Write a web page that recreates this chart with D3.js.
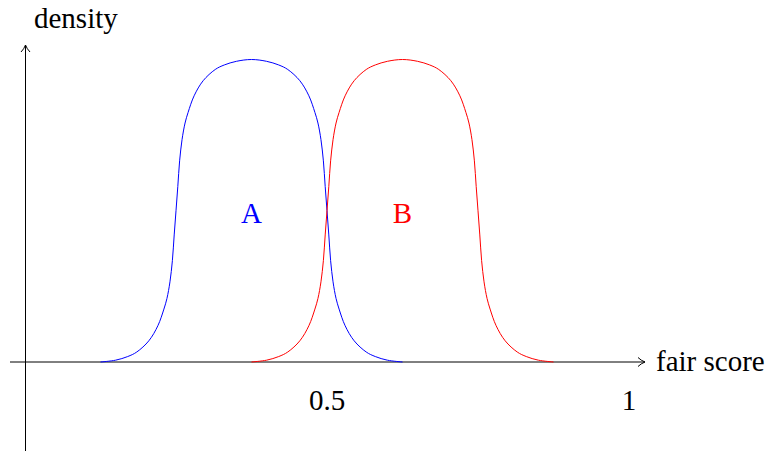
<!DOCTYPE html>
<html>
<head>
<meta charset="utf-8">
<script src="https://cdn.jsdelivr.net/npm/d3@7"></script>
</head>
<body style="margin:0">
<svg width="766" height="451"></svg>
<script>
// values (x = fair score, y = density, peak = 1)
var blueX = [0.125, 0.150, 0.170, 0.185, 0.205, 0.220, 0.230, 0.235, 0.240, 0.244, 0.247, 0.250, 0.253, 0.256, 0.260, 0.265, 0.270, 0.280, 0.295, 0.315, 0.330, 0.350, 0.375,
             0.400, 0.420, 0.435, 0.455, 0.470, 0.480, 0.485, 0.490, 0.494, 0.497, 0.500, 0.503, 0.506, 0.510, 0.515, 0.520, 0.530, 0.545, 0.565, 0.580, 0.600, 0.625];
var blueY = [0, 0.006, 0.018, 0.033, 0.070, 0.120, 0.175, 0.210, 0.265, 0.335, 0.420, 0.500, 0.580, 0.665, 0.735, 0.790, 0.825, 0.880, 0.930, 0.967, 0.982, 0.994, 1.000,
             0.994, 0.982, 0.967, 0.930, 0.880, 0.825, 0.790, 0.735, 0.665, 0.580, 0.500, 0.420, 0.335, 0.265, 0.210, 0.175, 0.120, 0.070, 0.033, 0.018, 0.006, 0];
var redX = [0.375, 0.400, 0.420, 0.435, 0.455, 0.470, 0.480, 0.485, 0.490, 0.494, 0.497, 0.500, 0.503, 0.506, 0.510, 0.515, 0.520, 0.530, 0.545, 0.565, 0.580, 0.600, 0.625,
            0.650, 0.670, 0.685, 0.705, 0.720, 0.730, 0.735, 0.740, 0.744, 0.747, 0.750, 0.753, 0.756, 0.760, 0.765, 0.770, 0.780, 0.795, 0.815, 0.830, 0.850, 0.875];
var redY = [0, 0.006, 0.018, 0.033, 0.070, 0.120, 0.175, 0.210, 0.265, 0.335, 0.420, 0.500, 0.580, 0.665, 0.735, 0.790, 0.825, 0.880, 0.930, 0.967, 0.982, 0.994, 1.000,
            0.994, 0.982, 0.967, 0.930, 0.880, 0.825, 0.790, 0.735, 0.665, 0.580, 0.500, 0.420, 0.335, 0.265, 0.210, 0.175, 0.120, 0.070, 0.033, 0.018, 0.006, 0];
var tickValues = [0.5, 1];
var tickLabels = ["0.5", "1"];
var seriesNames = ["A", "B"];
var seriesColors = ["#0000ff", "#ff0000"];
var labelX = [0.375, 0.625];
var labelY = 0.46;

var svg = d3.select("svg");
var x = d3.scaleLinear().domain([0, 1]).range([25, 629]);
var y = d3.scaleLinear().domain([0, 1]).range([362, 59.5]);

// axes with open arrow heads
svg.append("line").attr("x1", 10).attr("x2", 645).attr("y1", y(0)).attr("y2", y(0))
  .attr("stroke", "#000").attr("stroke-width", 1);
svg.append("path").attr("d", "M638,357.5 Q641,360.5 645,362 Q641,363.5 638,366.5")
  .attr("fill", "none").attr("stroke", "#000").attr("stroke-width", 1);

svg.append("line").attr("x1", 25.5).attr("x2", 25.5).attr("y1", 451).attr("y2", 45)
  .attr("stroke", "#000").attr("stroke-width", 1);
svg.append("path").attr("d", "M21,52 Q24,49 25.5,45 Q27,49 30,52")
  .attr("fill", "none").attr("stroke", "#000").attr("stroke-width", 1);

function label(sel) {
  return sel.attr("font-family", "Liberation Serif").attr("font-size", 29);
}

svg.append("text").attr("x", 34).attr("y", 28).call(label).text("density");
svg.append("text").attr("x", 656).attr("y", 371).call(label).text("fair score");

svg.selectAll(".tick").data(tickValues).enter().append("text")
  .attr("class", "tick")
  .attr("x", function(d) { return x(d); })
  .attr("y", 410)
  .attr("text-anchor", "middle")
  .call(label)
  .text(function(d, i) { return tickLabels[i]; });

var line = d3.line()
  .x(function(d) { return x(d[0]); })
  .y(function(d) { return y(d[1]); })
  .curve(d3.curveCatmullRom.alpha(0.5));

var series = [d3.zip(blueX, blueY), d3.zip(redX, redY)];
svg.selectAll(".curve").data(series).enter().append("path")
  .attr("class", "curve")
  .attr("d", line)
  .attr("fill", "none")
  .attr("stroke", function(d, i) { return seriesColors[i]; })
  .attr("stroke-width", 1);

svg.selectAll(".lab").data(seriesNames).enter().append("text")
  .attr("class", "lab")
  .attr("x", function(d, i) { return x(labelX[i]); })
  .attr("y", y(labelY))
  .attr("text-anchor", "middle")
  .call(label)
  .attr("fill", function(d, i) { return seriesColors[i]; })
  .text(function(d) { return d; });
</script>
</body>
</html>
